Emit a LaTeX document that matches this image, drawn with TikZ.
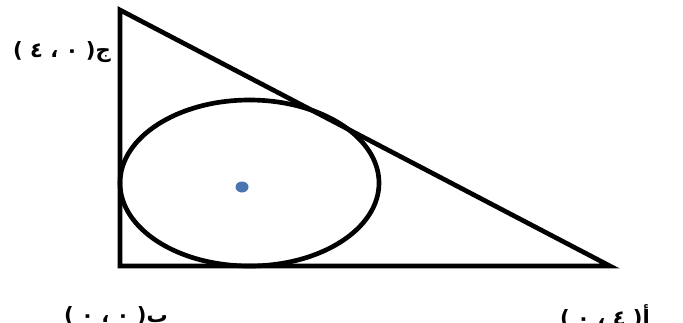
\documentclass[tikz,border=0pt]{standalone}
\usepackage{fontspec}
\newfontfamily\arabicfont[Script=Arabic]{DejaVu Sans}
\TeXXeTstate=1
\usetikzlibrary{calc,positioning}

\begin{document}
\begin{tikzpicture}[x=0.03cm, y=-0.03cm,
 side/.style={line width=0.14cm, line join=miter},
 vlabel/.style={inner sep=0pt, font=\arabicfont\bfseries\fontsize{18}{21}\selectfont}]

 \useasboundingbox (0,0) rectangle (683,322);

% vertices of the triangle
  \coordinate (C) at (120,10);
  \coordinate (B) at (120,266);
  \coordinate (A) at (610,266);
  \coordinate (M) at (249.5,183);

  \draw [side] (C)--(B)--(A)--cycle;

% inscribed ellipse
  \draw [side] (M) ellipse [x radius=129.5, y radius=83];
  \fill [fill={rgb,255:red,74;green,117;blue,176}] (242,187) ellipse [x radius=6.5, y radius=5.5];

  \node (labC) [vlabel, anchor=east] at (111,52) {\beginR ج( ٠ ، ٤ )\endR};
  \node (labB) [vlabel, anchor=east] at (168,316) {\beginR ب( ٠ ، ٠ )\endR};
  \node (labA) [vlabel, anchor=west] at (560,316) {\beginR أ( ٤ ، ٠ )\endR};

\end{tikzpicture}
\end{document}
